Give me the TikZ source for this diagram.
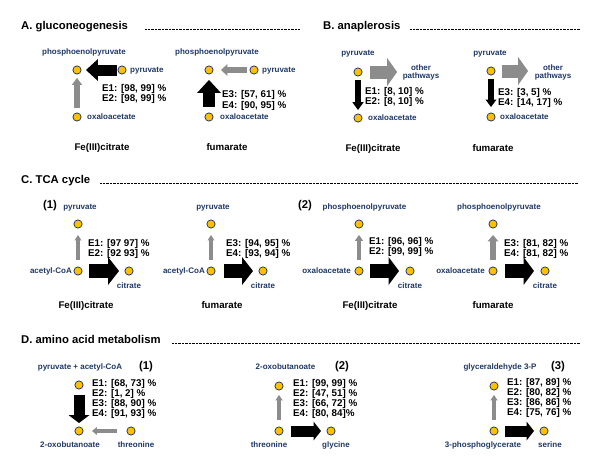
\documentclass[tikz,border=0pt]{standalone}
\usepackage{fontspec}
\setmainfont{Liberation Sans}
\usetikzlibrary{arrows.meta}
\definecolor{mblue}{RGB}{31,56,100}
\definecolor{mgold}{RGB}{255,192,0}
\definecolor{garrow}{RGB}{140,140,140}
\tikzset{
 met/.style={circle, draw=mblue, fill=mgold, line width=0.75pt, minimum size=8.2pt, inner sep=0pt},
 mlab/.style={font=\fontsize{8}{8.5}\selectfont\bfseries, text=mblue, inner sep=0pt, text height=.75em, text depth=.2em},
 mlab2/.style={font=\fontsize{8}{8}\selectfont\bfseries, text=mblue, inner sep=0pt, align=center},
 elab/.style={font=\fontsize{9.8}{10}\selectfont\bfseries, inner sep=0pt, anchor=west, text height=.72em, text depth=0em},
 caplab/.style={font=\fontsize{9.7}{10}\selectfont\bfseries, inner sep=0pt, text height=.75em, text depth=.2em},
 sect/.style={font=\fontsize{11.3}{12}\selectfont\bfseries, inner sep=0pt, anchor=base west},
 numlab/.style={font=\fontsize{11.3}{12}\selectfont\bfseries, inner sep=0pt, text height=.75em, text depth=.2em},
 dotline/.style={line width=0.6pt, dash pattern=on 0.6pt off 0.8pt},
 blk/.style n args={3}{draw=black, line width=#1, -{Triangle[width=#2,length=#3,line width=0pt]}},
 gry/.style n args={3}{draw=garrow, color=garrow, line width=#1, -{Triangle[width=#2,length=#3,line width=0pt]}},
}
\begin{document}
\begin{tikzpicture}[x=1pt,y=-1pt]
\useasboundingbox (0,0) rectangle (600,466);
% ---------- section titles ----------
\node[sect] (tA) at (21,29.5) {A. gluconeogenesis};
\node[sect] (tB) at (323,29.5) {B. anaplerosis};
\node[sect] (tC) at (21,183.3) {C. TCA cycle};
\node[sect] (tD) at (21,343.3) {D. amino acid metabolism};
\coordinate (dA1) at (145,29.3); \coordinate (dA2) at (300,29.3);
\coordinate (dB1) at (410,29.3); \coordinate (dB2) at (580,29.3);
\coordinate (dC1) at (100,183); \coordinate (dC2) at (578,183);
\coordinate (dD1) at (172,343); \coordinate (dD2) at (580,343);
\draw[dotline] (dA1) -- (dA2);
\draw[dotline] (dB1) -- (dB2);
\draw[dotline] (dC1) -- (dC2);
\draw[dotline] (dD1) -- (dD2);
% ---------- A. Fe(III)citrate ----------
\node[met] (apep) at (77,70) {};
\node[met] (apyr) at (122,70) {};
\node[met] (aoaa) at (77,117) {};
\node[mlab] (apepL) at (84,52) {phosphoenolpyruvate};
\node[mlab,anchor=west] (apyrL) at (130,70) {pyruvate};
\node[mlab,anchor=west] (aoaaL) at (87,117) {oxaloacetate};
\draw[blk={11pt}{22pt}{12pt}, shorten <=0.5pt, shorten >=4.5pt] (apyr) -- (apep);
\draw[gry={6pt}{10.5pt}{7pt}, shorten <=4.5pt, shorten >=3.5pt] (aoaa) -- (apep);
\node[elab] (ae1) at (102,88) {E1: [98, 99] \%};
\node[elab] (ae2) at (102,97.5) {E2: [98, 99] \%};
\node[caplab] (acap1) at (102,148) {Fe(III)citrate};
% ---------- A. fumarate ----------
\node[met] (fpep) at (209,70) {};
\node[met] (fpyr) at (254,70) {};
\node[met] (foaa) at (209,117) {};
\node[mlab] (fpepL) at (217,52) {phosphoenolpyruvate};
\node[mlab,anchor=west] (fpyrL) at (262,70) {pyruvate};
\node[mlab,anchor=west] (foaaL) at (220,117) {oxaloacetate};
\draw[gry={6.5pt}{12pt}{6.5pt}, shorten <=2.5pt, shorten >=7.5pt] (fpyr) -- (fpep);
\draw[blk={12pt}{24pt}{13pt}, shorten <=5.5pt, shorten >=5.5pt] (foaa) -- (fpep);
\node[elab] (fe3) at (222,94) {E3: [57, 61] \%};
\node[elab] (fe4) at (222,104.5) {E4: [90, 95] \%};
\node[caplab] (acap2) at (227,148) {fumarate};
% ---------- B. Fe(III)citrate ----------
\node[met] (bpyr) at (358,72) {};
\node[met] (boaa) at (358,118) {};
\node[mlab] (bpyrL) at (358,53) {pyruvate};
\node[mlab2] (both) at (421,72) {other\\pathways};
\node[mlab,anchor=west] (boaaL) at (368,118) {oxaloacetate};
\draw[gry={13pt}{28pt}{10pt}, shorten <=7.5pt, shorten >=5.5pt] (bpyr) -- (both.west |- bpyr);
\draw[blk={6.5pt}{11.5pt}{8pt}, shorten <=3.5pt, shorten >=3.5pt] (bpyr) -- (boaa);
\node[elab] (be1) at (365,91) {E1: [8, 10] \%};
\node[elab] (be2) at (365,100.5) {E2: [8, 10] \%};
\node[caplab] (bcap1) at (373,149) {Fe(III)citrate};
% ---------- B. fumarate ----------
\node[met] (gpyr) at (491,71) {};
\node[met] (goaa) at (491,117) {};
\node[mlab] (gpyrL) at (490,53) {pyruvate};
\node[mlab2] (goth) at (553,72) {other\\pathways};
\node[mlab,anchor=west] (goaaL) at (500,117) {oxaloacetate};
\draw[gry={13pt}{28pt}{10pt}, shorten <=6.5pt, shorten >=6.5pt] (gpyr) -- (goth.west |- gpyr);
\draw[blk={6.5pt}{11pt}{7.5pt}, shorten <=3.5pt, shorten >=5.5pt] (gpyr) -- (goaa);
\node[elab] (ge3) at (498,92) {E3: [3, 5] \%};
\node[elab] (ge4) at (498,102) {E4: [14, 17] \%};
\node[caplab] (bcap2) at (493,149) {fumarate};
% ---------- C. (1) Fe(III)citrate ----------
\node[numlab] (cn1) at (50,206) {(1)};
\node[met] (cpyr) at (78,224) {};
\node[met] (cacoa) at (78,271) {};
\node[met] (ccit) at (129,271) {};
\node[mlab] (cpyrL) at (80,207) {pyruvate};
\node[mlab,anchor=east] (cacoaL) at (72,271) {acetyl-CoA};
\node[mlab] (ccitL) at (129,286) {citrate};
\draw[gry={3.5pt}{7pt}{5.5pt}, shorten <=6.5pt, shorten >=6.5pt] (cacoa) -- (cpyr);
\draw[blk={14pt}{28pt}{11pt}, shorten <=6.5pt, shorten >=5.5pt] (cacoa) -- (ccit);
\node[elab] (ce1) at (88,243) {E1: [97 97] \%};
\node[elab] (ce2) at (88,253) {E2: [92 93] \%};
\node[caplab] (ccap1) at (86,306) {Fe(III)citrate};
% ---------- C. (1) fumarate ----------
\node[met] (dpyr) at (211,224) {};
\node[met] (dacoa) at (211,271) {};
\node[met] (dcit) at (263,271) {};
\node[mlab] (dpyrL) at (213,207) {pyruvate};
\node[mlab,anchor=east] (dacoaL) at (205,271) {acetyl-CoA};
\node[mlab] (dcitL) at (263,286) {citrate};
\draw[gry={3.5pt}{7pt}{5.5pt}, shorten <=6.5pt, shorten >=6.5pt] (dacoa) -- (dpyr);
\draw[blk={14pt}{28pt}{11pt}, shorten <=8.5pt, shorten >=5.5pt] (dacoa) -- (dcit);
\node[elab] (de3) at (226,243) {E3: [94, 95] \%};
\node[elab] (de4) at (226,253) {E4: [93, 94] \%};
\node[caplab] (ccap2) at (222,306) {fumarate};
% ---------- C. (2) Fe(III)citrate ----------
\node[numlab] (cn2) at (305,206) {(2)};
\node[met] (epep) at (359,224) {};
\node[met] (eoaa) at (359,271) {};
\node[met] (ecit) at (410,271) {};
\node[mlab] (epepL) at (364.5,207) {phosphoenolpyruvate};
\node[mlab,anchor=east] (eoaaL) at (351,271) {oxaloacetate};
\node[mlab] (ecitL) at (410,286) {citrate};
\draw[gry={4.5pt}{8.5pt}{6pt}, shorten <=6.5pt, shorten >=6.5pt] (eoaa) -- (epep);
\draw[blk={14pt}{28pt}{10.5pt}, shorten <=6.5pt, shorten >=6.5pt] (eoaa) -- (ecit);
\node[elab] (ee1) at (369,241) {E1: [96, 96] \%};
\node[elab] (ee2) at (369,251) {E2: [99, 99] \%};
\node[caplab] (ccap3) at (370,306) {Fe(III)citrate};
% ---------- C. (2) fumarate ----------
\node[met] (hpep) at (493,224) {};
\node[met] (hoaa) at (493,271) {};
\node[met] (hcit) at (545,271) {};
\node[mlab] (hpepL) at (499,207) {phosphoenolpyruvate};
\node[mlab,anchor=east] (hoaaL) at (485,271) {oxaloacetate};
\node[mlab] (hcitL) at (545,286) {citrate};
\draw[gry={6.5pt}{11pt}{6.5pt}, shorten <=6.5pt, shorten >=6.5pt] (hoaa) -- (hpep);
\draw[blk={14pt}{28pt}{10.5pt}, shorten <=7.5pt, shorten >=6.5pt] (hoaa) -- (hcit);
\node[elab] (he3) at (504,243) {E3: [81, 82] \%};
\node[elab] (he4) at (504,253) {E4: [81, 82] \%};
\node[caplab] (ccap4) at (493,306) {fumarate};
% ---------- D. (1) ----------
\node[mlab] (ipaL) at (80,367) {pyruvate + acetyl-CoA};
\node[numlab] (in1) at (146,367) {(1)};
\node[met] (ipa) at (79,385) {};
\node[met] (ioxo) at (79,431) {};
\node[met] (ithr) at (131,431) {};
\node[mlab] (ioxoL) at (70,445) {2-oxobutanoate};
\node[mlab] (ithrL) at (136,445) {threonine};
\draw[blk={11pt}{21pt}{8pt}, shorten <=5.5pt, shorten >=3.5pt] (ipa) -- (ioxo);
\draw[gry={4pt}{8pt}{5pt}, shorten <=9.5pt, shorten >=8.5pt] (ithr) -- (ioxo);
\node[elab] (ie1) at (92,383) {E1: [68, 73] \%};
\node[elab] (ie2) at (92,393) {E2: [1, 2] \%};
\node[elab] (ie3) at (92,403) {E3: [88, 90] \%};
\node[elab] (ie4) at (92,413) {E4: [91, 93] \%};
% ---------- D. (2) ----------
\node[mlab] (joxoL) at (285.5,367) {2-oxobutanoate};
\node[numlab] (jn2) at (342,367) {(2)};
\node[met] (joxo) at (279,386) {};
\node[met] (jthr) at (279,431) {};
\node[met] (jgly) at (331,431) {};
\node[mlab] (jthrL) at (269,445) {threonine};
\node[mlab] (jglyL) at (336,445) {glycine};
\draw[gry={4pt}{7.5pt}{5.5pt}, shorten <=6.5pt, shorten >=4.5pt] (jthr) -- (joxo);
\draw[blk={11pt}{19pt}{7.5pt}, shorten <=7.5pt, shorten >=5.5pt] (jthr) -- (jgly);
\node[elab] (je1) at (293,383) {E1: [99, 99] \%};
\node[elab] (je2) at (293,393) {E2: [47, 51] \%};
\node[elab] (je3) at (293,403) {E3: [66, 72] \%};
\node[elab] (je4) at (293,413) {E4: [80, 84]\%};
% ---------- D. (3) ----------
\node[mlab] (kg3pL) at (500,367) {glyceraldehyde 3-P};
\node[numlab] (kn3) at (558,367) {(3)};
\node[met] (kg3p) at (494,386) {};
\node[met] (kpg) at (494,431) {};
\node[met] (kser) at (544,431) {};
\node[mlab] (kpgL) at (483,445) {3-phosphoglycerate};
\node[mlab] (kserL) at (550,445) {serine};
\draw[gry={4pt}{7.5pt}{5.5pt}, shorten <=6.5pt, shorten >=4.5pt] (kpg) -- (kg3p);
\draw[blk={11pt}{19pt}{7.5pt}, shorten <=6.5pt, shorten >=5.5pt] (kpg) -- (kser);
\node[elab] (ke1) at (507,382) {E1: [87, 89] \%};
\node[elab] (ke2) at (507,392) {E2: [80, 82] \%};
\node[elab] (ke3) at (507,402) {E3: [86, 86] \%};
\node[elab] (ke4) at (507,412) {E4: [75, 76] \%};
\end{tikzpicture}
\end{document}
